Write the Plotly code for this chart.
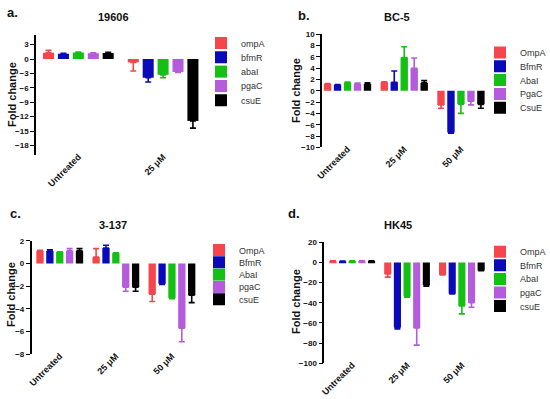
import plotly.graph_objects as go

W, H = 550, 399
FONT = "Arial, Liberation Sans, Helvetica, sans-serif"

colors = ["#F4464C", "#0A0AB8", "#14C014", "#B45CDC", "#000000"]

# ---- Panel a: 19606 ----
a_cats = ["Untreated", "25 μM"]
a_names = ["ompA", "bfmR", "abaI", "pgaC", "csuE"]
a_vals = [[1.3, -0.7], [1.1, -3.9], [1.35, -3.3], [1.2, -2.7], [1.25, -12.9]]
a_errs = [[0.5, 1.8], [0.1, 0.9], [0.1, 0.6], [0.1, 0.1], [0.15, 1.5]]

# ---- Panel b: BC-5 ----
b_cats = ["Untreated", "25 μM", "50 μM"]
b_names = ["OmpA", "BfmR", "AbaI", "PgaC", "CsuE"]
b_vals = [[1.2, 1.5, -2.5], [1.05, 1.5, -7.4], [1.45, 5.9, -2.35], [1.25, 4.0, -1.85], [1.2, 1.4, -2.4]]
b_errs = [[0.1, 0.1, 0.6], [0.05, 2.0, 0.1], [0.1, 1.9, 1.65], [0.1, 1.8, 0.65], [0.2, 0.4, 0.7]]

# ---- Panel c: 3-137 ----
c_cats = ["Untreated", "25 μM", "50 μM"]
c_names = ["OmpA", "BfmR", "AbaI", "pgaC", "csuE"]
c_vals = [[1.1, 0.55, -2.7], [1.1, 1.35, -1.8], [1.0, 0.9, -3.05], [1.1, -2.1, -5.7], [1.1, -2.1, -2.8]]
c_errs = [[0.05, 0.75, 0.65], [0.1, 0.25, 0.05], [0.03, 0.03, 0.05], [0.2, 0.35, 1.2], [0.2, 0.35, 0.65]]

# ---- Panel d: HK45 ----
d_cats = ["Untreated", "25 μM", "50 μM"]
d_names = ["OmpA", "BfmR", "AbaI", "pgaC", "csuE"]
d_vals = [[1.5, -11.5, -12.2], [1.2, -64.5, -31], [1.5, -33.4, -43], [1.5, -65, -40], [1.5, -22.5, -7.9]]
d_errs = [[0.2, 3, 0.3], [0.2, 1.5, 0.3], [0.2, 1, 8], [0.2, 17, 4.4], [0.2, 1, 0.3]]

panels = [
    dict(cats=a_cats, names=a_names, vals=a_vals, errs=a_errs, title="19606", label="a.",
         xpx=(36, 208), ypx=(35, 155), yr=(-20, 5), tickvals=[3, 0, -3, -6, -9, -12, -15, -18],
         xr=(-0.5, 1.53), legx=201, legy0=43, legdy=14.3, titlepos=(113, 17), labpos=(5, 13), ytpos=(12, 95)),
    dict(cats=b_cats, names=b_names, vals=b_vals, errs=b_errs, title="BC-5", label="b.",
         xpx=(322, 491), ypx=(34.3, 147.3), yr=(-10, 10), tickvals=list(range(10, -11, -2)),
         xr=(-0.45, 2.53), legx=480, legy0=52.5, legdy=13.8, titlepos=(397, 17), labpos=(296, 15), ytpos=(296, 91)),
    dict(cats=c_cats, names=c_names, vals=c_vals, errs=c_errs, title="3-137", label="c.",
         xpx=(31.7, 200), ypx=(240.7, 354.3), yr=(-8, 2), tickvals=[2, 0, -2, -4, -6, -8],
         xr=(-0.5, 2.5), legx=199, legy0=250, legdy=12.3, titlepos=(113, 225), labpos=(8, 213), ytpos=(11, 295)),
    dict(cats=d_cats, names=d_names, vals=d_vals, errs=d_errs, title="HK45", label="d.",
         xpx=(324.3, 492), ypx=(242.3, 363.3), yr=(-100, 20), tickvals=[20, 0, -20, -40, -60, -80, -100],
         xr=(-0.51, 2.55), legx=480, legy0=251.7, legdy=13.6, titlepos=(398, 225), labpos=(286, 213), ytpos=(296, 302)),
]

fig = go.Figure()
layout = dict(
    width=W, height=H, margin=dict(l=0, r=0, t=0, b=0, autoexpand=False),
    paper_bgcolor="white", plot_bgcolor="white",
    barmode="group", bargap=0.12, bargroupgap=0.26,
    font=dict(family=FONT, color="#111"),
    showlegend=True,
)
annotations = []

for i, p in enumerate(panels):
    n = i + 1
    xa = "x" if n == 1 else f"x{n}"
    ya = "y" if n == 1 else f"y{n}"
    xdom = [p["xpx"][0] / W, p["xpx"][1] / W]
    ydom = [1 - p["ypx"][1] / H, 1 - p["ypx"][0] / H]
    for k, name in enumerate(p["names"]):
        li = 5 * i + k + 1
        leg = "legend" if li == 1 else f"legend{li}"
        v = p["vals"][k]
        e = p["errs"][k]
        plus = [ee if vv >= 0 else 0 for vv, ee in zip(v, e)]
        minus = [ee if vv < 0 else 0 for vv, ee in zip(v, e)]
        fig.add_trace(go.Bar(
            x=p["cats"], y=v, name=name, marker=dict(color=colors[k], line=dict(width=0)),
            error_y=dict(type="data", symmetric=False, array=plus, arrayminus=minus,
                         color=colors[k], thickness=1.6, width=3),
            xaxis=xa, yaxis=ya, legend=leg, hoverinfo="skip",
        ))
        layout[leg] = dict(x=p["legx"] / W, y=1 - (p["legy0"] + k * p["legdy"]) / H,
                           xanchor="left", yanchor="middle",
                           font=dict(size=9, color="#333"), bgcolor="rgba(0,0,0,0)",
                           borderwidth=0, itemclick=False, itemdoubleclick=False)
    xkey = "xaxis" if n == 1 else f"xaxis{n}"
    ykey = "yaxis" if n == 1 else f"yaxis{n}"
    layout[xkey] = dict(domain=xdom, anchor=ya, range=list(p["xr"]), type="category",
                        showline=False, ticks="", tickangle=-45, ticklabelstandoff=-6,
                        tickfont=dict(size=9, weight="bold", color="#111"),
                        showgrid=False, zeroline=False, fixedrange=True, automargin=False)
    layout[ykey] = dict(domain=ydom, anchor=xa, range=list(p["yr"]), tickvals=p["tickvals"],
                        showline=True, linecolor="black", linewidth=1.6,
                        ticks="outside", ticklen=4, tickwidth=1.4, tickcolor="black",
                        tickfont=dict(size=8, weight="bold", color="#111"),
                        showgrid=False, zeroline=False, automargin=False, fixedrange=True)
    # overlay axis drawing the zero baseline with category ticks
    on = n + 4
    zero_pos = ydom[0] + (0 - p["yr"][0]) / (p["yr"][1] - p["yr"][0]) * (ydom[1] - ydom[0])
    layout[f"xaxis{on}"] = dict(domain=xdom, overlaying=xa, anchor="free", position=zero_pos,
                                type="linear", range=list(p["xr"]),
                                tickvals=list(range(len(p["cats"]))), showticklabels=False,
                                ticks="outside", ticklen=4, tickwidth=1.4, tickcolor="black",
                                showline=True, linecolor="black", linewidth=1.6,
                                showgrid=False, zeroline=False, automargin=False, fixedrange=True)
    annotations.append(dict(text=f"<b>{p['title']}</b>", x=p["titlepos"][0] / W, y=1 - p["titlepos"][1] / H,
                            xref="paper", yref="paper", showarrow=False, xanchor="center", yanchor="middle",
                            font=dict(size=11, color="#111")))
    annotations.append(dict(text=f"<b>{p['label']}</b>", x=p["labpos"][0] / W, y=1 - p["labpos"][1] / H,
                            xref="paper", yref="paper", showarrow=False, xanchor="left", yanchor="middle",
                            font=dict(size=13, color="#111")))
    annotations.append(dict(text="<b>Fold change</b>", x=p["ytpos"][0] / W, y=1 - p["ytpos"][1] / H,
                            xref="paper", yref="paper", showarrow=False, xanchor="center", yanchor="middle",
                            textangle=-90, font=dict(size=11, color="#111")))

layout["annotations"] = annotations
fig.update_layout(**layout)
fig.write_html("out.html", config={"displayModeBar": False},
               post_script="document.body.style.margin='0';document.body.style.overflow='hidden';")
